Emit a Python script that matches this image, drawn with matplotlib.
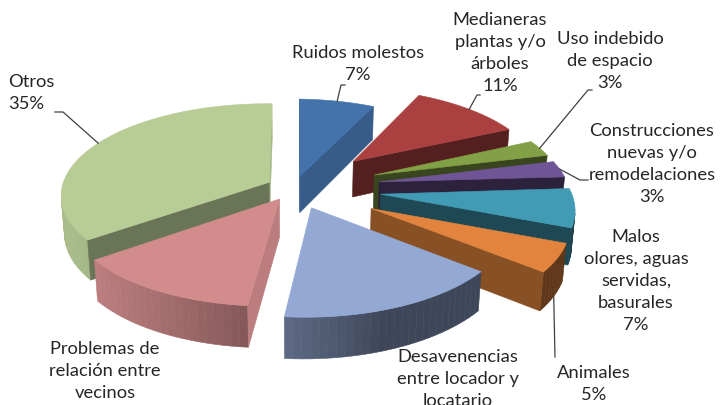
import numpy as np
import matplotlib.pyplot as plt
from matplotlib.patches import Polygon
from matplotlib.colors import to_rgb

# datos (porcentajes por tipo de conflicto)
etiquetas = ["Ruidos molestos", "Medianeras\nplantas y/o\nárboles", "Uso indebido\nde espacio",
             "Construcciones\nnuevas y/o\nremodelaciones", "Malos\nolores, aguas\nservidas,\nbasurales",
             "Animales", "Desavenencias\nentre locador y\nlocatario", "Problemas de\nrelación entre\nvecinos",
             "Otros"]
valores = [7, 11, 3, 3, 7, 5, 16, 13, 35]
colores = ['#4472AA', '#AA4140', '#82A046', '#705596', '#419BB4', '#E2843E', '#94A8D4', '#D28C8C', '#B8CC96']
explode = [0.14, 0.44, 0.44, 0.44, 0.44, 0.44, 0.23, 0.14, 0.14]

# camara / proyeccion en perspectiva
phi = np.radians(26.7)
D = 6.87
F = 1374.0
gx = 0.2
cx, cy = 294, 188
h = 0.21
luz = np.array([-0.95, -0.3]) / np.hypot(0.95, 0.3)


def proj(x, y, z):
    den = D + y * np.cos(phi) - z * np.sin(phi) + gx * x
    sx = F * x / den
    sy = F * (y * np.sin(phi) + z * np.cos(phi)) / den
    return cx + sx, cy - sy


def area(pts):
    # area con signo en pantalla (y hacia arriba)
    x = np.array([p[0] for p in pts])
    y = -np.array([p[1] for p in pts])
    return 0.5 * np.sum(x * np.roll(y, -1) - np.roll(x, -1) * y)


def shade(c, f):
    r, g, b = to_rgb(c)
    return (min(r * f, 1), min(g * f, 1), min(b * f, 1))


fig = plt.figure(figsize=(7.2, 4.05), dpi=100)
ax = fig.add_axes([0, 0, 1, 1])
ax.set_xlim(0, 720)
ax.set_ylim(405, 0)
ax.axis('off')

tajadas = []
acum = 0
for i, v in enumerate(valores):
    a_hi = 90 - acum * 3.6
    a_lo = a_hi - v * 3.6
    acum += v
    mid = np.radians((a_lo + a_hi) / 2)
    ox, oy = explode[i] * np.cos(mid), explode[i] * np.sin(mid)
    prof = D + (oy + 0.5 * np.sin(mid)) * np.cos(phi) + gx * (ox + 0.5 * np.cos(mid))
    tajadas.append((prof, i, a_lo, a_hi, ox, oy, mid))

anclas = {}
for prof, i, a_lo, a_hi, ox, oy, mid in sorted(tajadas, reverse=True):
    n = max(4, int((a_hi - a_lo) / 2))
    t = np.radians(np.linspace(a_lo, a_hi, n))
    top = [proj(ox + np.cos(a), oy + np.sin(a), 0) for a in t]
    bot = [proj(ox + np.cos(a), oy + np.sin(a), -h) for a in t]
    ap_t = proj(ox, oy, 0)
    ap_b = proj(ox, oy, -h)
    caras = []
    for k in range(n - 1):
        ang = (t[k] + t[k + 1]) / 2
        f = 0.42 + 0.5 * max(0, np.cos(ang) * luz[0] + np.sin(ang) * luz[1])
        caras.append(([bot[k], bot[k + 1], top[k + 1], top[k]], f))
    for ang, pts in [(t[0] - np.pi / 2, [ap_b, bot[0], top[0], ap_t]),
                     (t[-1] + np.pi / 2, [bot[-1], ap_b, ap_t, top[-1]])]:
        caras.append((pts, 0.4 + 0.5 * np.cos(ang) ** 2))
    for pts, f in caras:
        if area(pts) > 0:
            c = shade(colores[i], f)
            ax.add_patch(Polygon(pts, closed=True, fc=c, ec=c, lw=0.4))
    c = colores[i]
    ax.add_patch(Polygon([ap_t] + top, closed=True, fc=c, ec=c, lw=0.4))
    anclas[i] = (proj(ox + np.cos(mid), oy + np.sin(mid), 0),
                 proj(ox + np.cos(mid), oy + np.sin(mid), -h))

# etiquetas
pos_txt = [(358, 64), (500, 53), (610, 61), (652, 164), (636, 281), (594, 384),
           (458, 390), (105, 382), (8, 93)]
codos = {0: [(345, 85), (341, 85)], 1: [(480, 95), (477, 95)], 2: [(592, 90), (588, 90)],
         3: [(588, 180), (580, 180)], 5: [(555, 357)], 8: [(55, 112), (63, 112)]}

for i, lab in enumerate(etiquetas):
    txt = f"{lab}\n{valores[i]}%"
    x, y = pos_txt[i]
    if i == 8:
        ax.text(x, y, txt, ha='left', va='center', fontsize=13.2, family='Lato',
                color='#262626', linespacing=1.46)
    else:
        ax.text(x, y, txt, ha='center', va='center', multialignment='center', fontsize=13.2,
                family='Lato', color='#262626', linespacing=1.46)

for i, pts in codos.items():
    a = anclas[i][1] if i == 5 else anclas[i][0]
    xs = [p[0] for p in pts] + [a[0]]
    ys = [p[1] for p in pts] + [a[1]]
    ax.plot(xs, ys, color='#404040', lw=0.9)

fig.savefig('out.png', dpi=100)
